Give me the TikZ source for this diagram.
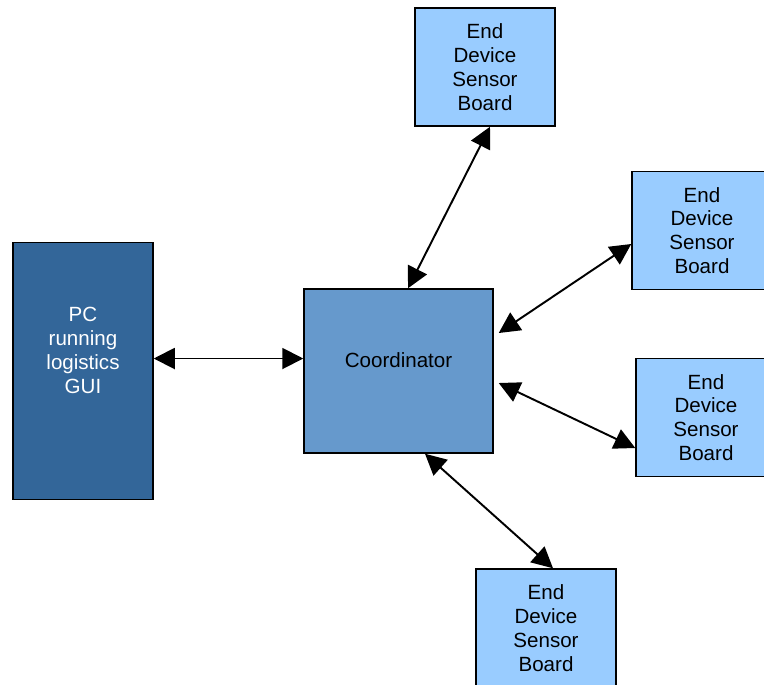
\documentclass[tikz,border=0pt]{standalone}
\usepackage{fontspec}
\setmainfont{Liberation Sans}
\usepackage{tikz}
\usetikzlibrary{shapes.geometric, arrows.meta}
\definecolor{pcblue}{HTML}{336699}
\definecolor{coordblue}{HTML}{6699CC}
\definecolor{endblue}{HTML}{99CCFF}
\tikzstyle{pcbox} = [rectangle, minimum width=2.8cm, minimum height=5.14cm, align=center, text depth=0.84cm, draw=black, line width=0.85pt, fill=pcblue, text=white, font=\fontsize{11.7}{13.6}\selectfont]
\tikzstyle{coordbox} = [rectangle, minimum width=3.78cm, minimum height=3.28cm, text centered, text depth=0.44cm, draw=black, line width=0.85pt, fill=coordblue, font=\fontsize{11.7}{13.6}\selectfont]
\tikzstyle{enddev} = [rectangle, minimum width=2.8cm, minimum height=2.36cm, align=center, draw=black, line width=0.85pt, fill=endblue, font=\fontsize{11.7}{13.6}\selectfont]
\tikzstyle{arrow} = [line width=1.1pt, {Triangle[length=0.42cm,width=0.42cm]}-{Triangle[length=0.42cm,width=0.42cm]}]

\begin{document}
\begin{tikzpicture}[node distance=2cm]
\clip (0,0) rectangle (15.28,-13.68);
\node (coord) [coordbox] at (7.97,-7.42) {Coordinator};
\node (pc) [pcbox, left of=coord, xshift=-4.31cm] {PC\\running\\logistics\\GUI};
\node (top) [enddev, above of=coord, xshift=1.73cm, yshift=4.08cm] {End\\Device\\Sensor\\Board};
\node (right1) [enddev, right of=coord, xshift=4.07cm, yshift=2.81cm] {End\\Device\\Sensor\\Board};
\node (right2) [enddev, right of=coord, xshift=4.15cm, yshift=-0.93cm] {End\\Device\\Sensor\\Board};
\node (bottom) [enddev, below of=coord, xshift=2.95cm, yshift=-3.14cm] {End\\Device\\Sensor\\Board};
\draw [arrow] ([yshift=0.25cm]pc.east) -- ([yshift=0.25cm]coord.west);
\draw [arrow] ([xshift=0.19cm]coord.north) -- ([xshift=0.1cm]top.south);
\draw [arrow] ([xshift=0.1cm,yshift=0.76cm]coord.east) -- ([yshift=-0.27cm]right1.west);
\draw [arrow] ([xshift=0.1cm,yshift=-0.24cm]coord.east) -- ([yshift=-0.61cm]right2.west);
\draw [arrow] ([xshift=0.53cm]coord.south) -- ([xshift=0.14cm]bottom.north);
\end{tikzpicture}
\end{document}
